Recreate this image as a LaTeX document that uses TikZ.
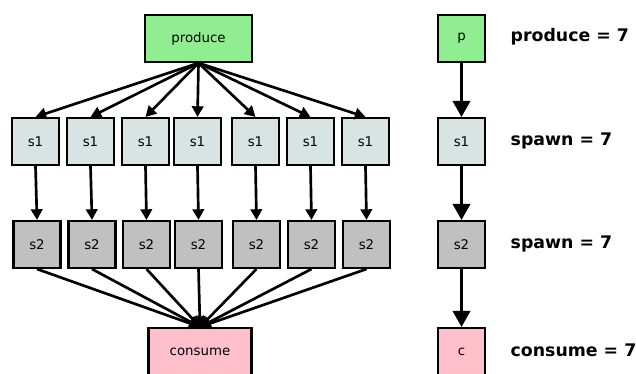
\documentclass[tikz,border=0pt]{standalone}
\usepackage{fontspec}
\setmainfont{DejaVu Sans}
\usetikzlibrary{arrows.meta}

\definecolor{prodgreen}{RGB}{144,238,144}
\definecolor{spawnone}{RGB}{216,228,228}
\definecolor{spawntwo}{RGB}{192,192,192}
\definecolor{conspink}{RGB}{255,192,203}

\tikzset{
  stage/.style={draw, line width=1.8pt, minimum width=35pt, minimum height=35pt,
    inner sep=0pt, font=\fontsize{10}{12}\selectfont},
  wide/.style={stage, minimum width=77pt},
  flow/.style={line width=2pt, -{Triangle[length=8pt,width=8.5pt]}},
  bigflow/.style={line width=2pt, -{Triangle[length=12pt,width=13pt]}},
  count/.style={anchor=west, font=\fontsize{13}{15}\bfseries}
}

\begin{document}
\begin{tikzpicture}[x=0.75pt,y=-0.75pt]
\useasboundingbox (0,0) rectangle (636,374);

\node[wide, fill=prodgreen, minimum width=80pt] (prod) at (198.5,38.5) {produce};

\node[stage, fill=spawnone] (a1) at (35.5,141.5) {s1};
\node[stage, fill=spawnone] (a2) at (90.5,141.5) {s1};
\node[stage, fill=spawnone] (a3) at (145.5,141.5) {s1};
\node[stage, fill=spawnone] (a4) at (197.5,141.5) {s1};
\node[stage, fill=spawnone] (a5) at (255.5,141.5) {s1};
\node[stage, fill=spawnone] (a6) at (310.5,141.5) {s1};
\node[stage, fill=spawnone] (a7) at (365.5,141.5) {s1};

\node[stage, fill=spawntwo] (b1) at (37,244.5) {s2};
\node[stage, fill=spawntwo] (b2) at (92,244.5) {s2};
\node[stage, fill=spawntwo] (b3) at (146.5,244.5) {s2};
\node[stage, fill=spawntwo] (b4) at (198.5,244.5) {s2};
\node[stage, fill=spawntwo] (b5) at (256.5,244.5) {s2};
\node[stage, fill=spawntwo] (b6) at (311.5,244.5) {s2};
\node[stage, fill=spawntwo] (b7) at (366.5,244.5) {s2};

\node[wide, fill=conspink] (cons) at (200,351.5) {consume};

\draw[flow] (prod.south) -- (a1.north);
\draw[flow] (prod.south) -- (a2.north);
\draw[flow] (prod.south) -- (a3.north);
\draw[flow] (prod.south) -- (a4.north);
\draw[flow] (prod.south) -- (a5.north);
\draw[flow] (prod.south) -- (a6.north);
\draw[flow] (prod.south) -- (a7.north);

\draw[flow] (a1.south) -- (b1.north);
\draw[flow] (a2.south) -- (b2.north);
\draw[flow] (a3.south) -- (b3.north);
\draw[flow] (a4.south) -- (b4.north);
\draw[flow] (a5.south) -- (b5.north);
\draw[flow] (a6.south) -- (b6.north);
\draw[flow] (a7.south) -- (b7.north);

\draw[flow] (b1.south) -- (cons.north);
\draw[flow] (b2.south) -- (cons.north);
\draw[flow] (b3.south) -- (cons.north);
\draw[flow] (b4.south) -- (cons.north);
\draw[flow] (b5.south) -- (cons.north);
\draw[flow] (b6.south) -- (cons.north);
\draw[flow] (b7.south) -- (cons.north);

% single chain
\node[stage, fill=prodgreen] (p) at (461.5,38.5) {p};
\node[stage, fill=spawnone] (s1) at (461.5,141.5) {s1};
\node[stage, fill=spawntwo] (s2) at (461.5,244.5) {s2};
\node[stage, fill=conspink] (c) at (461.5,351.5) {c};

\draw[bigflow] (p) -- (s1);
\draw[bigflow] (s1) -- (s2);
\draw[bigflow] (s2) -- (c);

\node[count] (np) at (506,37) {produce = 7};
\node[count] (ns1) at (506,141) {spawn = 7};
\node[count] (ns2) at (506,244) {spawn = 7};
\node[count] (nc) at (506,350) {consume = 7};
\end{tikzpicture}
\end{document}
